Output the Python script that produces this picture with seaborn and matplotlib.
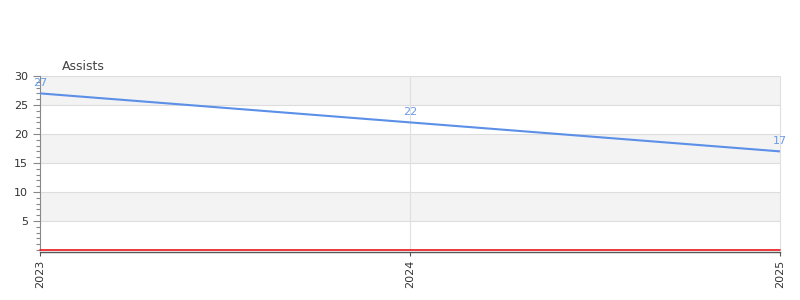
import matplotlib
matplotlib.use("Agg")
import matplotlib.pyplot as plt
import seaborn as sns
import pandas as pd
from matplotlib.ticker import MultipleLocator

years = [2023, 2024, 2025]
assists = [27, 22, 17]
tick_labels = ["2023", "2024", "2025"]
title = "Assists"

sns.set_style("white")
plt.rcParams['font.family'] = ['DejaVu Sans']

df = pd.DataFrame({"year": years, "assists": assists})

fig = plt.figure(figsize=(8, 3), dpi=100)
ax = fig.add_axes([0.05, 0.1667, 0.925, 0.58])

# alternating bands
for lo in range(0, 30, 5):
    if (lo // 5) % 2 == 1:
        ax.axhspan(lo, lo + 5, color="#f3f3f3", zorder=0, lw=0)
for y in range(5, 31, 5):
    ax.axhline(y, color="#dddddd", lw=0.8, zorder=1)
for x in years[1:]:
    ax.axvline(x, color="#e0e0e0", lw=0.8, zorder=1, clip_on=False)

sns.lineplot(data=df, x="year", y="assists", ax=ax, color="#5b8fe8", lw=1.5, zorder=3)
ax.axhline(0, color="#e8161b", lw=1.2, zorder=4, clip_on=False)

for x, v in zip(years, assists):
    ax.annotate(str(v), (x, v), xytext=(0, 4), textcoords="offset points",
                ha="center", va="bottom", fontsize=8, color="#6a9be8", zorder=5)

ax.set_xlim(2023, 2025)
ax.set_ylim(0, 30)
ax.set_xticks(years)
ax.set_xticklabels(tick_labels)
ax.set_yticks([5, 10, 15, 20, 25, 30])
ax.set_yticklabels(["5", "10", "15", "20", "25", "30"])
ax.yaxis.set_minor_locator(MultipleLocator(1))
ax.tick_params(axis="y", which="major", length=5, color="#888888", width=0.8, left=True,
               labelsize=8, labelcolor="#333333")
ax.tick_params(axis="y", which="minor", length=3, color="#888888", width=0.8, left=True)
ax.tick_params(axis="x", which="major", length=3, color="#555555", bottom=True, pad=3,
               labelrotation=90, labelsize=8, labelcolor="#333333")
ax.set_xlabel("")
ax.set_ylabel("")

for s in ["top", "right"]:
    ax.spines[s].set_visible(False)
ax.spines["left"].set_color("#888888")
ax.spines["left"].set_linewidth(0.8)
ax.spines["bottom"].set_color("#555555")
ax.spines["bottom"].set_linewidth(1.0)
ax.spines["bottom"].set_position(("outward", 1.2))

fig.text(62 / 800, 1 - 66 / 300, title, fontsize=9, color="#444444", va="center", ha="left")

fig.savefig("out.png", dpi=100)
